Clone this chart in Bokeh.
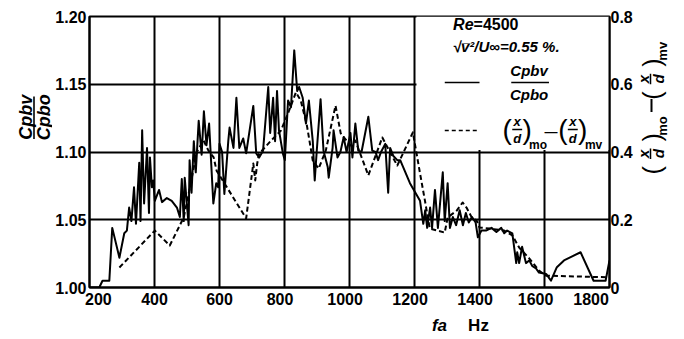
from math import pi
from bokeh.plotting import figure
from bokeh.layouts import row, column
from bokeh.core.properties import value
from bokeh.models import Range1d, LinearAxis, FixedTicker, CustomJSTickFormatter, PrintfTickFormatter, Label
from bokeh.embed import file_html
from bokeh.resources import INLINE

# ---- data ----
freq_cp = [200, 230, 240, 261, 270, 292, 307, 315, 322, 329, 337, 343, 353, 357, 362, 368, 377, 383,
           386, 392, 396, 401, 414, 423, 438, 453, 469, 478, 484, 490, 493, 505, 508, 514, 521, 527,
           536, 545, 552, 560, 568, 581, 590, 596, 600, 608, 615, 627, 631, 643, 652, 661, 673, 682,
           704, 713, 722, 734, 750, 756, 765, 771, 777, 783, 795, 801, 811, 820, 830, 839, 845, 856,
           866, 875, 887, 893, 899, 911, 920, 933, 936, 948, 951, 963, 972, 982, 991, 1003, 1009,
           1018, 1027, 1037, 1058, 1070, 1080, 1088, 1097, 1110, 1119, 1125, 1135, 1147, 1156, 1186,
           1217, 1227, 1233, 1239, 1248, 1254, 1263, 1272, 1287, 1293, 1302, 1309, 1318, 1328, 1339,
           1349, 1358, 1367, 1377, 1388, 1395, 1406, 1420, 1437, 1452, 1467, 1476, 1485, 1501, 1513,
           1516, 1522, 1531, 1543, 1553, 1562, 1574, 1583, 1605, 1620, 1638, 1660, 1711, 1751, 1788, 1800]
cp_ratio = [1.000, 1.000, 1.005, 1.005, 1.044, 1.022, 1.040, 1.042, 1.059, 1.049, 1.074, 1.047, 1.092, 1.049,
            1.116, 1.062, 1.103, 1.055, 1.096, 1.074, 1.079, 1.064, 1.072, 1.063, 1.066, 1.064, 1.059, 1.052,
            1.080, 1.049, 1.081, 1.046, 1.094, 1.070, 1.108, 1.085, 1.123, 1.098, 1.130, 1.105, 1.121, 1.062,
            1.077, 1.074, 1.106, 1.100, 1.069, 1.108, 1.118, 1.103, 1.140, 1.103, 1.110, 1.099, 1.134, 1.099,
            1.096, 1.101, 1.148, 1.114, 1.140, 1.108, 1.145, 1.116, 1.099, 1.094, 1.138, 1.133, 1.175, 1.145,
            1.148, 1.140, 1.121, 1.138, 1.108, 1.079, 1.100, 1.139, 1.101, 1.089, 1.081, 1.103, 1.116, 1.096,
            1.100, 1.111, 1.100, 1.114, 1.096, 1.121, 1.101, 1.100, 1.126, 1.101, 1.100, 1.094, 1.100, 1.106,
            1.070, 1.103, 1.097, 1.094, 1.094, 1.077, 1.064, 1.047, 1.057, 1.044, 1.059, 1.044, 1.072, 1.044,
            1.085, 1.049, 1.077, 1.044, 1.052, 1.046, 1.057, 1.046, 1.055, 1.048, 1.052, 1.048, 1.037, 1.042,
            1.042, 1.044, 1.041, 1.044, 1.040, 1.042, 1.040, 1.018, 1.026, 1.018, 1.030, 1.018, 1.020, 1.016,
            1.014, 1.011, 1.010, 1.005, 1.015, 1.020, 1.026, 1.005, 1.005, 1.020]

freq_dx = [292, 401, 447, 490, 510, 530, 551, 566, 582, 591, 682, 704, 710, 716, 722, 759, 789, 814, 835,
           850, 869, 887, 905, 927, 957, 973, 1003, 1018, 1058, 1101, 1125, 1147, 1195, 1217, 1232, 1247,
           1293, 1302, 1330, 1348, 1360, 1376, 1391, 1400, 1431, 1476, 1501, 1522, 1553, 1583, 1605, 1800]
dx_diff = [0.059, 0.168, 0.124, 0.207, 0.300, 0.400, 0.434, 0.404, 0.384, 0.345, 0.204, 0.366, 0.316, 0.366,
           0.395, 0.434, 0.463, 0.522, 0.576, 0.552, 0.478, 0.375, 0.351, 0.404, 0.537, 0.455, 0.419, 0.434,
           0.331, 0.443, 0.399, 0.360, 0.458, 0.337, 0.257, 0.174, 0.162, 0.207, 0.227, 0.251, 0.236, 0.207,
           0.198, 0.177, 0.174, 0.168, 0.154, 0.118, 0.086, 0.050, 0.035, 0.030]

x_ticks = [200, 400, 600, 800, 1000, 1200, 1400, 1600, 1800]
y_ticks = [1.00, 1.05, 1.10, 1.15, 1.20]
right_ticks = [0, 0.2, 0.4, 0.6, 0.8]

FONT = "Liberation Sans"
NB = "\u00a0"

# page layout (page pixels)
LEFT_W, MAIN_W, RIGHT_W = 52, 583, 49
TOP_H, BOT_H = 312, 27

p = figure(width=MAIN_W, height=TOP_H, x_range=Range1d(200, 1800), y_range=Range1d(1.0, 1.2),
           output_backend="svg", toolbar_location=None,
           min_border_left=35, min_border_right=24, min_border_top=16, min_border_bottom=25)
p.extra_y_ranges = {"right": Range1d(0, 0.8)}
p.background_fill_color = "white"
p.border_fill_color = "white"
p.outline_line_color = "black"
p.outline_line_width = 2

# grid
p.xgrid.ticker = FixedTicker(ticks=x_ticks[1:-1])
p.ygrid.ticker = FixedTicker(ticks=y_ticks[1:-1])
for g in (p.xgrid[0], p.ygrid[0]):
    g.grid_line_color = "black"
    g.grid_line_width = 2

def style_axis(ax):
    ax.axis_line_width = 2
    ax.axis_line_color = "black"
    ax.major_tick_in = 0
    ax.major_tick_out = 0
    ax.minor_tick_line_color = None
    ax.major_label_text_font = FONT
    ax.major_label_text_font_style = "bold"
    ax.major_label_text_font_size = "16px"
    ax.major_label_text_color = "black"
    ax.major_label_standoff = 3

p.xaxis.ticker = FixedTicker(ticks=x_ticks)
p.yaxis.ticker = FixedTicker(ticks=y_ticks)
p.yaxis.formatter = PrintfTickFormatter(format="%.2f")
style_axis(p.xaxis[0])
style_axis(p.yaxis[0])
# the scanned labels sit slightly inward at the ends
p.xaxis.major_label_overrides = {200: NB * 4 + "200", 800: "800" + NB * 2, 1000: "1000" + NB * 2,
                                 1200: "1200" + NB * 2, 1400: "1400" + NB * 2, 1600: "1600" + NB * 4,
                                 1800: "1800" + NB * 6}

rax = LinearAxis(y_range_name="right", ticker=FixedTicker(ticks=right_ticks),
                 formatter=CustomJSTickFormatter(code="return tick == 0 ? '0' : tick.toFixed(1);"))
style_axis(rax)
rax.major_label_standoff = 1
p.add_layout(rax, "right")

# helpers mapping reference-pixel positions to data positions (for annotation placement)
def fx(px):
    return 200 + (px - 87) * 1600 / 524

def fy(py):
    return 1.0 + (287 - py) * 0.2 / 271

# legend background box
p.quad(left=fx(416.5), right=1800, bottom=fy(149.5), top=1.2, fill_color="white", line_color=None)

# data lines
p.line(freq_cp, cp_ratio, line_color="black", line_width=2, line_join="round")
p.line(freq_dx, dx_diff, y_range_name="right", line_color="black", line_width=2,
       line_dash="5 3", line_join="round")

def lab(text, px, py, size, style="bold", align="center", baseline="middle"):
    p.add_layout(Label(x=fx(px), y=fy(py), text=text, text_font=FONT, text_font_size=f"{size}px",
                       text_font_style=style, text_align=align, text_baseline=baseline,
                       text_color="black"))

# legend texts
lab("Re", 474, 24, 16, "bold italic", align="right")
lab("=4500", 474, 24, 16, "bold", align="left")
lab("\u221av\u0305\u00b2/U\u221e=0.55 %.", 453, 46, 15, "bold italic", align="left")
p.segment(x0=[fx(445)], y0=[fy(82)], x1=[fx(480)], y1=[fy(82)], line_color="black", line_width=1.5)
p.segment(x0=[fx(445)], y0=[fy(130)], x1=[fx(480)], y1=[fy(130)], line_color="black", line_width=1.5,
          line_dash="4 3")
lab("Cpbv", 530, 70, 15, "bold italic")
p.segment(x0=[fx(512)], y0=[fy(82)], x1=[fx(550)], y1=[fy(82)], line_color="black", line_width=1.5)
lab("Cpbo", 530, 94, 15, "bold italic")
for cx, sub in ((518, "mo"), (574, "mv")):
    lab("(", cx - 10, 129, 28, "normal")
    lab(")", cx + 10, 129, 28, "normal")
    lab("x", cx, 121, 13, "bold italic")
    p.segment(x0=[fx(cx - 5)], y0=[fy(129)], x1=[fx(cx + 5)], y1=[fy(129)], line_color="black", line_width=1.5)
    lab("d", cx, 138, 13, "bold italic")
    lab(sub, cx + 21, 144, 12, "bold")
lab("\u2014", 552, 131, 13, "bold")


# ---- side figures holding the axis titles (ranges in page pixels) ----
def side_fig(w, h, x0, y0):
    f = figure(width=w, height=h, x_range=Range1d(x0, x0 + w), y_range=Range1d(y0 + h, y0),
               output_backend="svg", toolbar_location=None,
               min_border_left=0, min_border_right=0, min_border_top=0, min_border_bottom=0)
    f.axis.visible = False
    f.grid.visible = False
    f.outline_line_color = None
    return f

def txt(f, text, px, py, size, style="bold", angle=0.0):
    f.text(x=[px], y=[py], text=[text], angle=angle, text_font=value(FONT), text_font_size=f"{size}px",
           text_font_style=style, text_align="center", text_baseline="middle", text_color="black")

left = side_fig(LEFT_W, TOP_H, 0, 0)
txt(left, "Cpbv", 25, 116, 18, "bold italic", pi / 2)
left.segment(x0=[33.5], y0=[92], x1=[33.5], y1=[141], line_color="black", line_width=1.6)
txt(left, "Cpbo", 43, 116, 18, "bold italic", pi / 2)

right = side_fig(RIGHT_W, TOP_H, LEFT_W + MAIN_W, 0)
for cy, sub in ((158, "mo"), (72, "mv")):
    txt(right, "(", 651, cy + 19, 25, "normal", pi / 2)
    txt(right, ")", 651, cy - 19, 25, "normal", pi / 2)
    txt(right, "x", 643, cy, 15, "bold italic", pi / 2)
    right.segment(x0=[650], y0=[cy - 6], x1=[650], y1=[cy + 6], line_color="black", line_width=1.5)
    txt(right, "d", 658, cy, 15, "bold italic", pi / 2)
    txt(right, sub, 662, cy - 32, 13, "bold", pi / 2)
right.segment(x0=[651], y0=[95], x1=[651], y1=[110], line_color="black", line_width=2)

bottom = side_fig(LEFT_W + MAIN_W + RIGHT_W, BOT_H, 0, TOP_H)
txt(bottom, "fa", 439, 325, 17, "bold italic")
txt(bottom, "Hz", 478, 325, 17, "bold")

layout = column(row(left, p, right, spacing=0), bottom, spacing=0)
open("out.html", "w").write(file_html(layout, INLINE))
